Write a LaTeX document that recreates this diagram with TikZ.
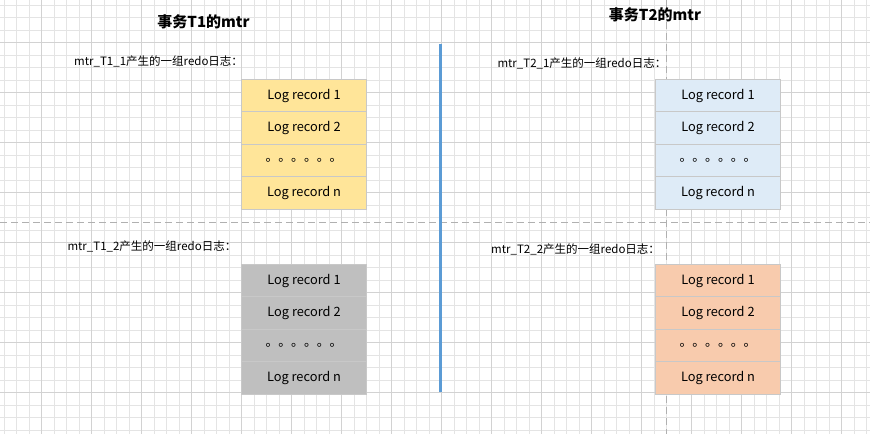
\documentclass[tikz,border=0pt]{standalone}
\usepackage{fontspec}
\setmainfont{Noto Sans CJK SC}
\newfontfamily\cjk{Noto Sans CJK SC}
\definecolor{gridminor}{HTML}{E4E4E4}
\definecolor{gridmajor}{HTML}{D2D2D2}
\definecolor{yel}{HTML}{FFE599}
\definecolor{gry}{HTML}{BFBFBF}
\definecolor{blu}{HTML}{DEEBF7}
\definecolor{pch}{HTML}{F8CBAD}
\definecolor{edge}{HTML}{C8C8C8}
\definecolor{sepblue}{HTML}{5B9BD5}
\definecolor{dashgray}{HTML}{B0B0B0}
\tikzset{
  rowbox/.style={draw=edge, line width=0.8pt, minimum width=124.6pt, minimum height=32.5pt, inner sep=0pt, font=\cjk\fontsize{12.8}{14}\selectfont, text=black},
  lbl/.style={font=\cjk\fontsize{11.5}{13}\selectfont, inner sep=0pt, anchor=west},
  ttl/.style={font=\cjk\bfseries\fontsize{15}{17}\selectfont, inner sep=0pt},
  divider/.style={dashgray, line width=1.3pt, dash pattern=on 7pt off 4pt},
}
\begin{document}
\begin{tikzpicture}[x=1pt,y=-1pt]
\useasboundingbox (0,0) rectangle (870,434);
\fill[white] (0,0) rectangle (870,434);
% grid
\foreach \i in {0,...,69} { \draw[gridminor, line width=0.6pt] ({3.8+12.5*\i},0) -- ({3.8+12.5*\i},434); }
\foreach \i in {0,...,34} { \draw[gridminor, line width=0.6pt] (0,{4.8+12.5*\i}) -- (870,{4.8+12.5*\i}); }
\foreach \i in {0,...,17} { \draw[gridmajor, line width=0.8pt] ({41.3+50*\i},0) -- ({41.3+50*\i},434); }
\foreach \i in {0,...,8} { \draw[gridmajor, line width=0.8pt] (0,{42.3+50*\i}) -- (870,{42.3+50*\i}); }
% dashed dividers
\coordinate (hl) at (0,222.5);
\coordinate (hr) at (870,222.5);
\coordinate (vt) at (666.7,0);
\coordinate (vb) at (666.7,434);
\draw[divider] (hl) -- (hr);
\draw[divider] (vt) -- (vb);
% blue separator
\coordinate (st) at (440.7,44);
\coordinate (sb) at (440.7,392.3);
\draw[sepblue, line width=2.6pt] (st) -- (sb);
% titles
\node[ttl] (t1) at (203.5,22) {事务T1的mtr};
\node[ttl] (t2) at (655,15) {事务T2的mtr};
% labels
\node[lbl] (l11) at (74,61.7) {mtr\_T1\_1产生的一组redo日志：};
\node[lbl] (l12) at (67.3,246.7) {mtr\_T1\_2产生的一组redo日志：};
\node[lbl] (l21) at (497.3,63.3) {mtr\_T2\_1产生的一组redo日志：};
\node[lbl] (l22) at (491,249.3) {mtr\_T2\_2产生的一组redo日志：};
% boxes
\foreach \nm/\cx/\ty/\col in {a/304/79.3/yel, b/304/264.3/gry, c/718/79.3/blu, d/718/264.3/pch}{
  \node[rowbox, fill=\col] (\nm1) at (\cx,{\ty+16.25}) {Log record 1};
  \node[rowbox, fill=\col] (\nm2) at (\cx,{\ty+48.75}) {Log record 2};
  \node[rowbox, fill=\col] (\nm3) at (\cx,{\ty+81.25}) {。。。。。。};
  \node[rowbox, fill=\col] (\nm4) at (\cx,{\ty+113.75}) {Log record n};
}
\end{tikzpicture}
\end{document}
